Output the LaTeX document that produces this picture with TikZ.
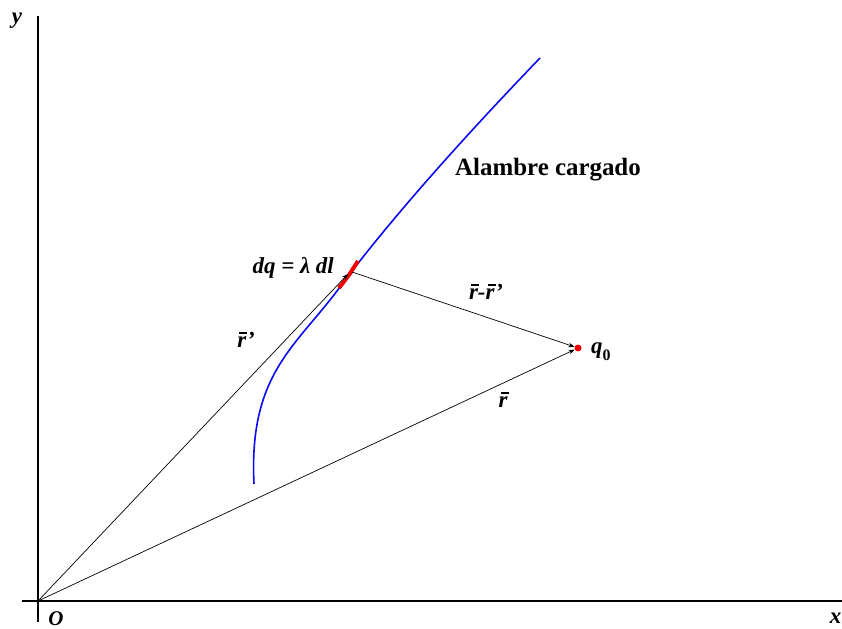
\documentclass[tikz,border=0pt]{standalone}
\usepackage{fontspec}
\setmainfont{Liberation Serif}
\usetikzlibrary{arrows.meta, positioning}
\definecolor{wirecol}{RGB}{10,10,245}
\definecolor{chargecol}{RGB}{240,0,0}
\newcommand{\rvec}{\makebox[0pt][l]{\hspace{2bp}\raisebox{14bp}{\rule{8bp}{1.4bp}}}r}

\begin{document}
\begin{tikzpicture}[x=1bp, y=-1bp, font=\bfseries\itshape\fontsize{23}{26}\selectfont,
    vec/.style={-{Stealth[length=6bp, width=4.5bp]}, line width=0.7bp},
    axis/.style={line width=1.8bp},
    lbl/.style={inner sep=0pt}]
  \useasboundingbox (0,0) rectangle (842,629);

  % axes
  \coordinate (O) at (38,601);
  \coordinate (ytop) at (38,16);
  \coordinate (ybot) at (38,622);
  \coordinate (xleft) at (22,601);
  \coordinate (xright) at (842,601);
  \draw[axis] (ybot) -- (ytop);
  \draw[axis] (xleft) -- (xright);
  \node[lbl] (ylbl) at (17,21) {y};
  \node[lbl, font=\bfseries\itshape\fontsize{21}{24}\selectfont] (olbl) at (56,619) {O};
  \node[lbl, anchor=north east] (xlbl) at (841.5,613) {x};

  % charged wire
  \draw[wirecol, line width=1.6bp] (254,484) .. controls (248.5,374) and (295.4,347.3) .. (340,287)
    .. controls (400,206) and (490,110) .. (540,58);
  \draw[chargecol, line width=4bp] (339,288) -- (349,275) -- (358,261);
  \node[lbl, font=\bfseries\fontsize{25}{28}\selectfont] (wire) at (548,170)
    {Alambre cargado};

  % element and test charge
  \coordinate (dl) at (348,274);
  \node[lbl, anchor=base east] (dqlbl) at (334,273) {dq = λ dl};
  \node[circle, fill=chargecol, inner sep=0pt, minimum size=7bp] (q0) at (578,348) {};
  \node[lbl, anchor=base west] (q0lbl) at (591,353)
    {q\raisebox{-7bp}{\upshape\fontsize{16}{18}\selectfont 0}};

  % vectors
  \draw[vec] (O) -- (dl);
  \draw[vec] ([xshift=4bp, yshift=2bp]dl) -- (q0);
  \draw[vec] (O) -- (q0);
  \node[lbl] (rplbl) at (246,340) {\rvec'};
  \node[lbl] (rrlbl) at (486,292) {\rvec-\rvec'};
  \node[lbl] (rlbl) at (503,400) {\rvec};
\end{tikzpicture}
\end{document}
